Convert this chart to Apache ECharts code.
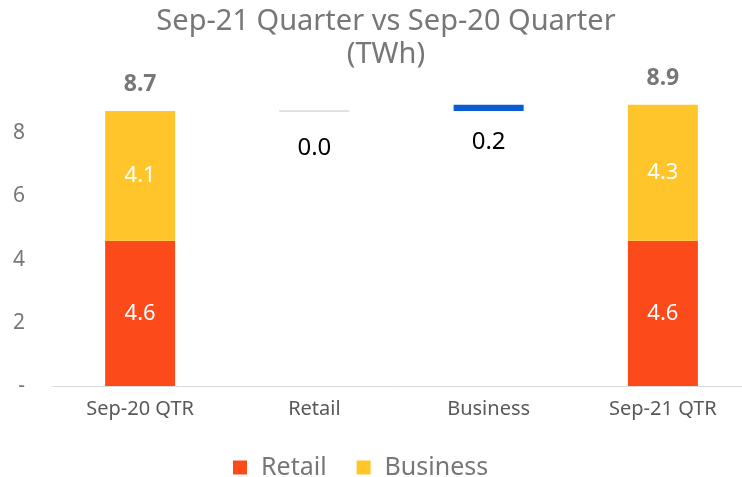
<!DOCTYPE html>
<html><head><meta charset="utf-8">
<script src="https://cdn.jsdelivr.net/npm/echarts@6/dist/echarts.min.js"></script>
<style>html,body{margin:0;padding:0;background:#fff}#c{width:742px;height:477px}</style>
</head><body><div id="c"></div>
<script>
var categories = ['Sep-20 QTR', 'Retail', 'Business', 'Sep-21 QTR'];
var retailValues = [4.6, '-', '-', 4.6];
var businessValues = [4.1, '-', '-', 4.3];
var bridgeBase = ['-', 8.7, 8.7, '-'];
var bridgeDelta = ['-', 0.0, 0.2, '-'];
var totals = [8.7, '-', '-', 8.9];
var yTicks = [0, 2, 4, 6, 8];

var FONT = 'Noto Sans';
var chart = echarts.init(document.getElementById('c'), null, {renderer: 'canvas'});
chart.setOption({
  animation: false,
  title: {
    text: 'Sep-21 Quarter vs Sep-20 Quarter\n(TWh)',
    left: 381, top: 0, textAlign: 'center',
    textStyle: {color: '#777', fontSize: 29, fontWeight: 'normal', fontFamily: FONT, lineHeight: 33}
  },
  legend: {
    top: 450, left: 228, itemWidth: 14, itemHeight: 14, itemGap: 30,
    icon: 'rect',
    data: ['Retail', 'Business'],
    textStyle: {color: '#777', fontSize: 25, fontFamily: FONT, padding: [0, 0, 0, 9]}
  },
  grid: {left: 53, right: -8, top: 70, bottom: 91, outerBoundsMode: 'none', containLabel: false},
  xAxis: {
    type: 'category', data: categories,
    axisLine: {lineStyle: {color: '#d9d9d9', width: 1}},
    axisTick: {show: false},
    axisLabel: {color: '#595959', fontSize: 20, fontFamily: FONT, margin: 13}
  },
  yAxis: {
    type: 'value', min: 0, max: 10, interval: 2,
    splitLine: {show: false},
    axisLine: {show: false}, axisTick: {show: false},
    axisLabel: {
      color: '#777', fontSize: 21, fontFamily: FONT, margin: 28,
      formatter: function (v) { if (v === 0) return '-'; return yTicks.indexOf(v) >= 0 ? String(v) : ''; }
    }
  },
  series: [
    {
      name: 'Retail', type: 'bar', stack: 'total', barWidth: 70, barGap: '-100%', data: retailValues,
      itemStyle: {color: '#FC4A1A'},
      label: {show: true, position: 'inside', color: '#fff', fontSize: 22, fontFamily: FONT,
        formatter: function (p) { return p.value.toFixed(1); }}
    },
    {
      name: 'Business', type: 'bar', stack: 'total', barWidth: 70, barGap: '-100%', data: businessValues,
      itemStyle: {color: '#FFC52B'},
      label: {show: true, position: 'inside', color: '#fff', fontSize: 22, fontFamily: FONT,
        formatter: function (p) { return p.value.toFixed(1); }}
    },
    {
      name: 'Total', type: 'bar', stack: 'total', barWidth: 70, barGap: '-100%',
      data: totals.map(function (t) { return t === '-' ? '-' : 0; }),
      itemStyle: {color: 'rgba(0,0,0,0)'},
      label: {show: true, position: 'top', distance: 15, color: '#777', fontSize: 23, fontWeight: 'bold', fontFamily: FONT,
        formatter: function (p) { return totals[p.dataIndex].toFixed(1); }}
    },
    {
      name: 'base', type: 'bar', stack: 'bridge', barWidth: 70, barGap: '-100%', data: bridgeBase,
      itemStyle: {color: 'rgba(0,0,0,0)'}, silent: true
    },
    {
      name: 'delta', type: 'bar', stack: 'bridge', barWidth: 70, barGap: '-100%',
      data: bridgeDelta.map(function (v) {
        if (v === '-') return '-';
        if (v === 0) return {value: 0, itemStyle: {color: '#d9d9d9', borderColor: '#d9d9d9', borderWidth: 1},
          label: {distance: 25}};
        return {value: v, itemStyle: {color: '#0A5DD1'}, label: {distance: 19}};
      }),
      label: {show: true, position: 'bottom', distance: 25, color: '#000', fontSize: 24, fontFamily: FONT,
        formatter: function (p) { return Number(bridgeDelta[p.dataIndex]).toFixed(1); }}
    }
  ]
});
</script></body></html>
